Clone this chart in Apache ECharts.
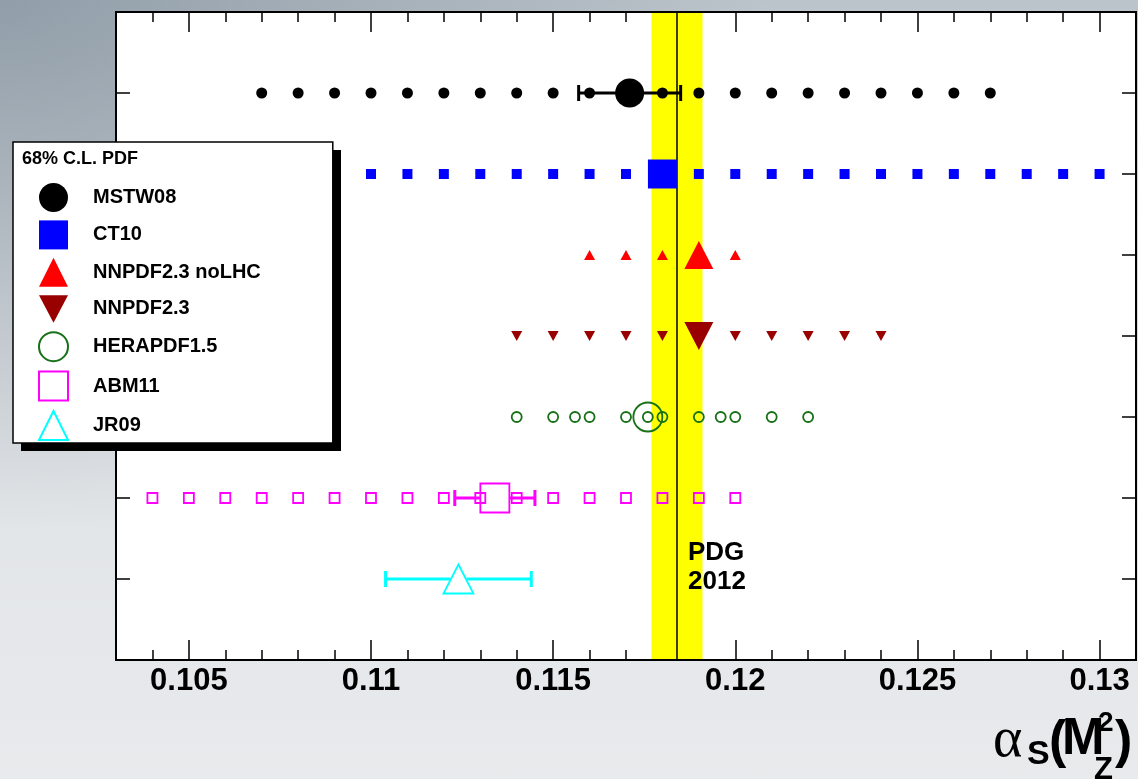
<!DOCTYPE html>
<html>
<head>
<meta charset="utf-8">
<title>alpha_s(M_Z^2) dependence of PDF sets</title>
<script src="https://cdn.jsdelivr.net/npm/echarts@6/dist/echarts.min.js"></script>
<style>
  html, body { margin: 0; padding: 0; width: 1138px; height: 779px; overflow: hidden; }
  body {
    background:
      radial-gradient(ellipse at 0% 0%, rgba(110, 126, 140, 0.55) 0%, rgba(110, 126, 140, 0) 48%),
      linear-gradient(180deg, #bcc4cb 0%, #d5d9dd 35%, #e3e6e9 70%, #e8eaec 100%);
  }
  #chart { width: 1138px; height: 779px; }
</style>
</head>
<body>
<div id="chart"></div>
<script>
// PDF sets, one row each (top to bottom)
const pdfNames = ['MSTW08', 'CT10', 'NNPDF2.3 noLHC', 'NNPDF2.3', 'HERAPDF1.5', 'ABM11', 'JR09'];
const rowPos = [7, 6, 5, 4, 3, 2, 1];

// best-fit alpha_s of each set and its 68% C.L. uncertainty (null: no bar)
const bestFit = [0.1171, 0.1180, 0.1190, 0.1190, 0.1176, 0.1134, 0.1124];
const errLow  = [0.1157, null, null, null, null, 0.1123, 0.1104];
const errHigh = [0.1185, null, null, null, null, 0.1145, 0.1144];

// alpha_s values for which each set provides fixed-alpha_s grids
const scanMSTW08 = [0.107, 0.108, 0.109, 0.110, 0.111, 0.112, 0.113, 0.114, 0.115, 0.116, 0.117,
                    0.118, 0.119, 0.120, 0.121, 0.122, 0.123, 0.124, 0.125, 0.126, 0.127];
const scanCT10 = [0.110, 0.111, 0.112, 0.113, 0.114, 0.115, 0.116, 0.117, 0.118, 0.119, 0.120,
                  0.121, 0.122, 0.123, 0.124, 0.125, 0.126, 0.127, 0.128, 0.129, 0.130];
const scanNNPDFnoLHC = [0.116, 0.117, 0.118, 0.119, 0.120];
const scanNNPDF = [0.114, 0.115, 0.116, 0.117, 0.118, 0.119, 0.120, 0.121, 0.122, 0.123, 0.124];
const scanHERAPDF = [0.114, 0.115, 0.1156, 0.116, 0.117, 0.1176, 0.118, 0.119, 0.1196, 0.120, 0.121, 0.122];
const scanABM11 = [0.104, 0.105, 0.106, 0.107, 0.108, 0.109, 0.110, 0.111, 0.112, 0.113, 0.114,
                   0.115, 0.116, 0.117, 0.118, 0.119, 0.120];
const scanJR09 = [];
const scans = [scanMSTW08, scanCT10, scanNNPDFnoLHC, scanNNPDF, scanHERAPDF, scanABM11, scanJR09];

// world average band
const pdgValue = 0.1184;
const pdgLow = 0.1177;
const pdgHigh = 0.1191;

// axes
const xMin = 0.103, xMax = 0.131, xStep = 0.001;
const majorTicks = [0.105, 0.110, 0.115, 0.120, 0.125, 0.130];
const rowTicks = [1, 2, 3, 4, 5, 6, 7];

// ---- styling ----
const FONT = '"Liberation Sans", Arial, Helvetica, sans-serif';
const colors = ['#000000', '#0000ff', '#ff0000', '#990000', '#177117', '#ff00ff', '#00ffff'];
const downTri = 'path://M0,0L20,0L10,19Z';
const bigMark = [
  { symbol: 'circle',   size: 29,       hollow: false },
  { symbol: 'rect',     size: 29,       hollow: false },
  { symbol: 'triangle', size: [29, 28], hollow: false },
  { symbol: downTri,    size: [29, 28], hollow: false },
  { symbol: 'circle',   size: 29,       hollow: true },
  { symbol: 'rect',     size: 29,       hollow: true },
  { symbol: 'triangle', size: [30, 29], hollow: true }
];
const smallMark = [
  { symbol: 'circle',   size: 11 },
  { symbol: 'rect',     size: 10 },
  { symbol: 'triangle', size: [11, 10] },
  { symbol: downTri,    size: [11, 10] },
  { symbol: 'circle',   size: 10 },
  { symbol: 'rect',     size: 10 },
  { symbol: 'circle',   size: 10 }
];
const barGap = [0, 0, 0, 0, 0, 15, 8];

function markStyle(i, hollow) {
  return hollow
    ? { color: 'rgba(0,0,0,0)', borderColor: colors[i], borderWidth: 1.8, opacity: 1 }
    : { color: colors[i], borderWidth: 0, opacity: 1 };
}

const series = [];

// yellow band and central line of the world average
series.push({
  type: 'custom',
  name: 'PDG 2012',
  z: 1,
  silent: true,
  data: [[pdgLow, pdgHigh, pdgValue]],
  encode: { x: [0, 1, 2] },
  renderItem: (params, api) => {
    const cs = params.coordSys;
    const a = api.coord([api.value(0), 0]);
    const b = api.coord([api.value(1), 0]);
    const m = api.coord([api.value(2), 0]);
    return {
      type: 'group',
      children: [
        { type: 'rect', shape: { x: a[0], y: cs.y + 1, width: b[0] - a[0], height: cs.height - 2 },
          style: { fill: '#ffff00' } },
        { type: 'line', shape: { x1: m[0], y1: cs.y + 1, x2: m[0], y2: cs.y + cs.height - 1 },
          style: { stroke: '#000', lineWidth: 1.5 } }
      ]
    };
  }
});

// fixed-alpha_s grid points
scans.forEach((vals, i) => {
  if (!vals.length) return;
  series.push({
    type: 'scatter',
    name: pdfNames[i] + ' grid',
    z: 3,
    symbol: smallMark[i].symbol,
    symbolSize: smallMark[i].size,
    itemStyle: markStyle(i, bigMark[i].hollow),
    emphasis: { disabled: true },
    data: vals.map(v => [v, rowPos[i]])
  });
});

// uncertainty bars
const barData = [];
pdfNames.forEach((n, i) => {
  if (errLow[i] !== null) barData.push([errLow[i], errHigh[i], rowPos[i], bestFit[i], i]);
});
series.push({
  type: 'custom',
  name: 'uncertainty',
  z: 4,
  silent: true,
  data: barData,
  encode: { x: [0, 1, 3], y: 2 },
  renderItem: (params, api) => {
    const i = api.value(4);
    const y = api.value(2);
    const lo = api.coord([api.value(0), y]);
    const hi = api.coord([api.value(1), y]);
    const c = api.coord([api.value(3), y]);
    const g = barGap[i];
    const st = { stroke: colors[i], lineWidth: 3 };
    const h = 8;
    return {
      type: 'group',
      children: [
        { type: 'line', shape: { x1: lo[0], y1: lo[1], x2: c[0] - g, y2: c[1] }, style: st },
        { type: 'line', shape: { x1: c[0] + g, y1: c[1], x2: hi[0], y2: hi[1] }, style: st },
        { type: 'line', shape: { x1: lo[0], y1: lo[1] - h, x2: lo[0], y2: lo[1] + h }, style: st },
        { type: 'line', shape: { x1: hi[0], y1: hi[1] - h, x2: hi[0], y2: hi[1] + h }, style: st }
      ]
    };
  }
});

// best-fit markers (these are the legend entries)
pdfNames.forEach((n, i) => {
  series.push({
    type: 'scatter',
    name: n,
    z: 5,
    symbol: bigMark[i].symbol,
    symbolSize: bigMark[i].size,
    itemStyle: markStyle(i, bigMark[i].hollow),
    emphasis: { disabled: true },
    data: [[bestFit[i], rowPos[i]]]
  });
});

const tickLine = { color: '#000', width: 1.5 };
function xAxisCfg(position, major) {
  return {
    type: 'value', position: position, min: xMin, max: xMax, interval: xStep,
    axisLine: { show: false },
    splitLine: { show: false },
    axisTick: major
      ? { show: true, inside: true, length: 20, lineStyle: tickLine, customValues: majorTicks }
      : { show: true, inside: true, length: 10, lineStyle: tickLine },
    axisLabel: (major && position === 'bottom')
      ? { show: true, customValues: majorTicks, margin: 6, color: '#000',
          fontFamily: FONT, fontWeight: 'bold', fontSize: 31,
          formatter: v => String(+(+v).toFixed(3)) }
      : { show: false }
  };
}
function yAxisCfg(position) {
  return {
    type: 'value', position: position, min: 0, max: 8, interval: 1,
    axisLine: { show: false },
    splitLine: { show: false },
    axisTick: { show: true, inside: true, length: 14, lineStyle: tickLine, customValues: rowTicks },
    axisLabel: { show: false }
  };
}

const option = {
  animation: false,
  backgroundColor: 'transparent',
  grid: {
    left: 116, top: 12, width: 1020, height: 648,
    show: true, backgroundColor: '#ffffff', borderColor: '#000000', borderWidth: 2
  },
  xAxis: [xAxisCfg('bottom', false), xAxisCfg('bottom', true), xAxisCfg('top', false), xAxisCfg('top', true)],
  yAxis: [yAxisCfg('left'), yAxisCfg('right')],
  legend: {
    data: pdfNames,
    orient: 'vertical',
    left: 13, top: 142,
    itemWidth: 29, itemHeight: 29, itemGap: 8.4,
    padding: [41, 72, 2, 25],
    backgroundColor: '#ffffff',
    borderColor: '#000000', borderWidth: 1.5, borderRadius: 0,
    selectedMode: false,
    z: 10,
    textStyle: { fontFamily: FONT, fontWeight: 'bold', fontSize: 20, color: '#000',
                 padding: [0, 0, 0, 20], width: 180 }
  },
  graphic: [
    // drop shadow of the legend box
    { type: 'rect', z: 9, silent: true, shape: { x: 21, y: 150, width: 320, height: 301 },
      style: { fill: '#000' } },
    { type: 'text', z: 100, left: 22, top: 150,
      style: { text: '68% C.L. PDF', fontFamily: FONT, fontWeight: 'bold', fontSize: 18, fill: '#000' } },
    { type: 'text', z: 100, left: 688, top: 538,
      style: { text: 'PDG\n2012', fontFamily: FONT, fontWeight: 'bold', fontSize: 26, lineHeight: 29, fill: '#000' } },
    // axis title: alpha_S(M_Z^2)
    { type: 'text', z: 100, x: 993, y: 741,
      style: { text: 'α', fontFamily: '"Liberation Serif", "DejaVu Serif", serif', fontSize: 56,
               fill: '#000', verticalAlign: 'middle' } },
    { type: 'text', z: 100, x: 1027, y: 755,
      style: { text: 'S', fontFamily: FONT, fontWeight: 'bold', fontSize: 34, fill: '#000', verticalAlign: 'middle' } },
    { type: 'text', z: 100, x: 1049, y: 743,
      style: { text: '(', fontFamily: FONT, fontWeight: 'bold', fontSize: 52, fill: '#000', verticalAlign: 'middle' } },
    { type: 'text', z: 100, x: 1062, y: 740,
      style: { text: 'M', fontFamily: FONT, fontWeight: 'bold', fontSize: 51, fill: '#000', verticalAlign: 'middle' } },
    { type: 'text', z: 100, x: 1098, y: 723,
      style: { text: '2', fontFamily: FONT, fontWeight: 'bold', fontSize: 28, fill: '#000', verticalAlign: 'middle' } },
    { type: 'text', z: 100, x: 1094, y: 770,
      style: { text: 'Z', fontFamily: FONT, fontWeight: 'bold', fontSize: 31, fill: '#000', verticalAlign: 'middle' } },
    { type: 'text', z: 100, x: 1115, y: 743,
      style: { text: ')', fontFamily: FONT, fontWeight: 'bold', fontSize: 52, fill: '#000', verticalAlign: 'middle' } }
  ],
  series: series
};

const chart = echarts.init(document.getElementById('chart'), null, { renderer: 'canvas' });
chart.setOption(option);
</script>
</body>
</html>
